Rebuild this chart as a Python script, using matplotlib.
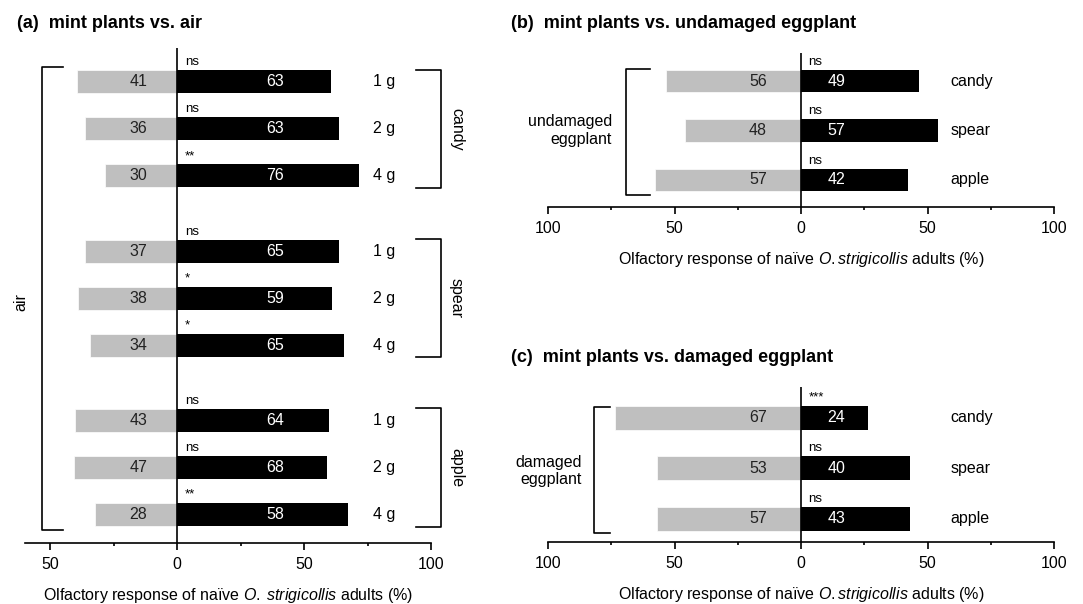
import numpy as np
import matplotlib.pyplot as plt

plt.rcParams['font.family'] = ['Liberation Sans', 'DejaVu Sans']
plt.rcParams['mathtext.fontset'] = 'custom'
plt.rcParams['mathtext.rm'] = 'Liberation Sans'
plt.rcParams['mathtext.it'] = 'Liberation Sans:italic'

# (a) mint plants vs. air  -- counts of adults choosing each arm
a_groups = ['candy', 'spear', 'apple']
a_doses = ['1 g', '2 g', '4 g']
a_air = [41, 36, 30, 37, 38, 34, 43, 47, 28]
a_mint = [63, 63, 76, 65, 59, 65, 64, 68, 58]
a_sig = ['ns', 'ns', '**', 'ns', '*', '*', 'ns', 'ns', '**']

# (b) mint plants vs. undamaged eggplant
b_mints = ['candy', 'spear', 'apple']
b_eggplant = [56, 48, 57]
b_mint = [49, 57, 42]
b_sig = ['ns', 'ns', 'ns']

# (c) mint plants vs. damaged eggplant
c_mints = ['candy', 'spear', 'apple']
c_eggplant = [67, 53, 57]
c_mint = [24, 40, 43]
c_sig = ['***', 'ns', 'ns']

W, H = 1083, 604
GRAY = '#bfbfbf'
FS = 11.5

fig = plt.figure(figsize=(W / 100, H / 100), dpi=100)


def px_axes(left, top, right, bottom):
	return fig.add_axes([left / W, 1 - bottom / H, (right - left) / W, (bottom - top) / H])


def style_axis(ax, xmin, ticks, minor, xlabel):
	ax.set_xlim(xmin, 100)
	for s in ['left', 'right', 'top']:
		ax.spines[s].set_visible(False)
	ax.spines['bottom'].set_linewidth(1.2)
	ax.set_yticks([])
	ax.set_xticks(ticks)
	ax.set_xticklabels([str(abs(t)) for t in ticks])
	ax.set_xticks(minor, minor=True)
	ax.tick_params(axis='x', which='major', length=5, width=1.2, labelsize=FS, pad=5)
	ax.tick_params(axis='x', which='minor', length=2.5, width=1.2)
	ax.axvline(0, color='black', lw=1.2, zorder=3)
	ax.set_xlabel(xlabel, fontsize=FS, labelpad=10)


def draw_bars(ax, y, left_n, right_n, sig, lx, rx, h, unit):
	left_n = np.array(left_n)
	right_n = np.array(right_n)
	total = left_n + right_n
	lp = left_n / total * 100
	rp = right_n / total * 100
	ax.barh(y, -lp, height=h, color=GRAY, edgecolor='white', lw=0.5, zorder=2)
	ax.barh(y, rp, height=h, color='black', zorder=2)
	for yi, ln, rn, s in zip(y, left_n, right_n, sig):
		ax.text(lx, yi, str(ln), ha='center', va='center', fontsize=FS, color='#222222', zorder=4)
		ax.text(rx, yi, str(rn), ha='center', va='center', fontsize=FS, color='white', zorder=4)
		ax.text(3, yi - h / 2 - 5 / unit, s, ha='left', va='baseline', fontsize=9.5, zorder=4)


def bracket(ax, x0, x1, y0, y1):
	ax.plot([x1, x0, x0, x1], [y0, y0, y1, y1], color='black', lw=1.2,
			clip_on=False, solid_joinstyle='round')


# ---- panel (a)
ax = px_axes(25, 48, 431, 543)
ya = np.array([g * 3.6 + i for g in range(3) for i in range(3)])
draw_bars(ax, ya, a_air, a_mint, a_sig, -15.4, 38.7, 0.49, 47)
ax.set_ylim(9.81, -0.72)
style_axis(ax, -60, [-50, 0, 50, 100], [-25, 25, 75],
		   r'Olfactory response of naïve $\mathit{O.\;strigicollis}$ adults (%)')
for k, yi in enumerate(ya):
	ax.text(81.4, yi, a_doses[k % 3], ha='center', va='center', fontsize=FS, clip_on=False)
for g, name in enumerate(a_groups):
	y0 = ya[g * 3]
	bracket(ax, 104, 94, y0 - 0.26, y0 + 2.26)
	ax.text(110, y0 + 1, name, rotation=-90, ha='center', va='center', fontsize=FS, clip_on=False)
bracket(ax, -53.4, -45, -0.32, 9.53)
ax.text(-61.7, 4.68, 'air', rotation=90, ha='center', va='center', fontsize=FS, clip_on=False)

# ---- panel (b)
ax = px_axes(548, 53, 1054, 207)
yb = np.arange(3)
draw_bars(ax, yb, b_eggplant, b_mint, b_sig, -17, 14, 0.45, 49.5)
ax.set_ylim(2.55, -0.57)
style_axis(ax, -100, [-100, -50, 0, 50, 100], [-75, -25, 25, 75],
		   r'Olfactory response of naïve $\mathit{O.strigicollis}$ adults (%)')
for yi, name in zip(yb, b_mints):
	ax.text(59, yi, name, ha='left', va='center', fontsize=FS, clip_on=False)
bracket(ax, -69.2, -59.7, -0.24, 2.30)
ax.text(-74.7, 1.0, 'undamaged\neggplant', ha='right', va='center', fontsize=FS, clip_on=False)

# ---- panel (c)
ax = px_axes(548, 387, 1054, 542)
yc = np.arange(3)
draw_bars(ax, yc, c_eggplant, c_mint, c_sig, -17, 14, 0.47, 50.5)
ax.set_ylim(2.46, -0.61)
style_axis(ax, -100, [-100, -50, 0, 50, 100], [-75, -25, 25, 75],
		   r'Olfactory response of naïve $\mathit{O.strigicollis}$ adults (%)')
for yi, name in zip(yc, c_mints):
	ax.text(59, yi, name, ha='left', va='center', fontsize=FS, clip_on=False)
bracket(ax, -81.8, -75.5, -0.22, 2.28)
ax.text(-86.6, 1.05, 'damaged\neggplant', ha='right', va='center', fontsize=FS, clip_on=False)

# titles
fig.text(17 / W, 1 - 23 / H, '(a)  mint plants vs. air', fontsize=13, fontweight='bold', va='center')
fig.text(511 / W, 1 - 23 / H, '(b)  mint plants vs. undamaged eggplant', fontsize=13, fontweight='bold', va='center')
fig.text(511 / W, 1 - 357 / H, '(c)  mint plants vs. damaged eggplant', fontsize=13, fontweight='bold', va='center')

fig.savefig('out.png', dpi=100)
